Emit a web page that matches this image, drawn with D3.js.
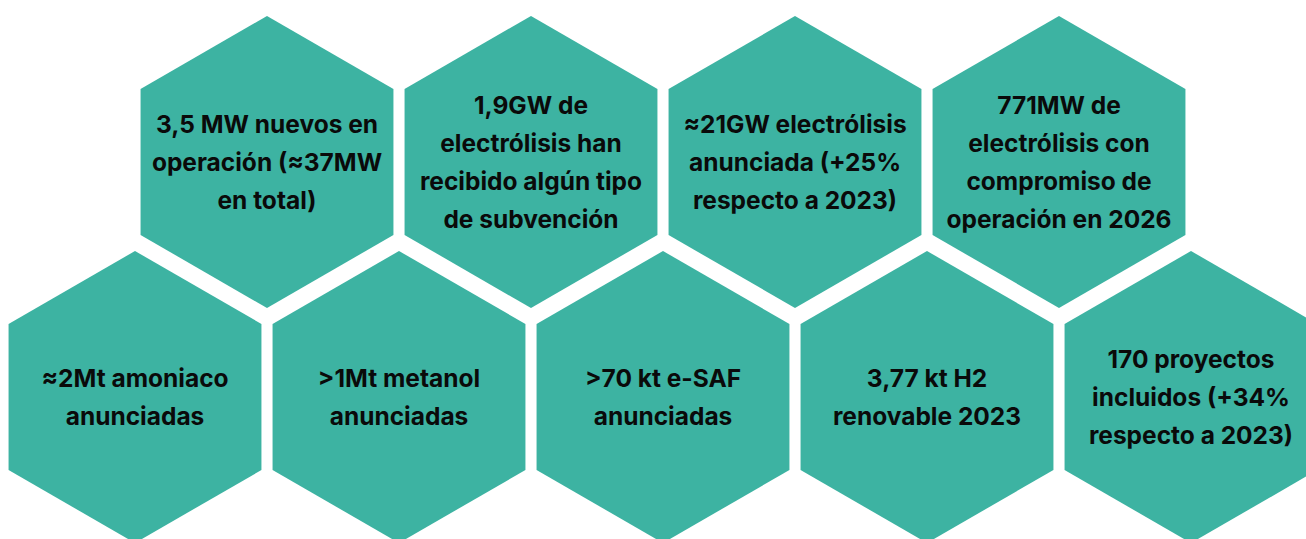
<!DOCTYPE html>
<html>
<head>
<meta charset="utf-8">
<script src="https://cdn.jsdelivr.net/npm/d3@7"></script>
<style>
  html, body { margin: 0; padding: 0; background: #ffffff; }
  svg { display: block; }
</style>
</head>
<body>
<div id="chart"></div>
<script>
// rows of hexagons, each item is a list of text lines
const topRow = [
    ["3,5 MW nuevos en", "operación (≈37MW", "en total)"],
    ["1,9GW de", "electrólisis han", "recibido algún tipo", "de subvención"],
    ["≈21GW electrólisis", "anunciada (+25%", "respecto a 2023)"],
    ["771MW de", "electrólisis con", "compromiso de", "operación en 2026"]
];
const bottomRow = [
    ["≈2Mt amoniaco", "anunciadas"],
    [">1Mt metanol", "anunciadas"],
    [">70 kt e-SAF", "anunciadas"],
    ["3,77 kt H2", "renovable 2023"],
    ["170 proyectos", "incluidos (+34%", "respecto a 2023)"]
];
// column slot of each row (top row sits between the bottom ones)
const topSlots = [0.5, 1.5, 2.5, 3.5];
const bottomSlots = [0, 1, 2, 3, 4];

const width = 1306, height = 539;
const R = 146;            // hex radius (vertex to centre)
const lineHeight = 38;
const fill = "#3db3a2";

const x = d3.scaleLinear().domain([0, 4]).range([135, 1191]);
const y = d3.scaleOrdinal().domain(["top", "bottom"]).range([162, 397]);

const svg = d3.select("#chart").append("svg")
    .attr("width", width)
    .attr("height", height);

const hexLine = d3.line();
function hexPath(r) {
    const pts = d3.range(6).map(i => {
        const a = Math.PI / 3 * i - Math.PI / 2;
        return [r * Math.cos(a), r * Math.sin(a)];
    });
    return hexLine(pts) + "Z";
}

const cells = [
    ...topRow.map((lines, i) => ({row: "top", slot: topSlots[i], lines})),
    ...bottomRow.map((lines, i) => ({row: "bottom", slot: bottomSlots[i], lines}))
];

const cell = svg.append("g")
    .selectAll("g")
    .data(cells)
    .join("g")
    .attr("transform", d => `translate(${x(d.slot)},${y(d.row)})`);

cell.append("path")
    .attr("d", hexPath(R))
    .attr("fill", fill);

cell.append("text")
    .attr("text-anchor", "middle")
    .attr("font-family", "Inter, 'Noto Sans', sans-serif")
    .attr("font-weight", 700)
    .attr("font-size", 24.5)
    .attr("fill", "#0a0a0a")
    .selectAll("tspan")
    .data(d => d.lines.map((t, i) => ({t, i, n: d.lines.length})))
    .join("tspan")
    .attr("x", 0)
    .attr("y", d => (d.i - (d.n - 1) / 2) * lineHeight)
    .attr("dy", "0.36em")
    .text(d => d.t);
</script>
</body>
</html>
